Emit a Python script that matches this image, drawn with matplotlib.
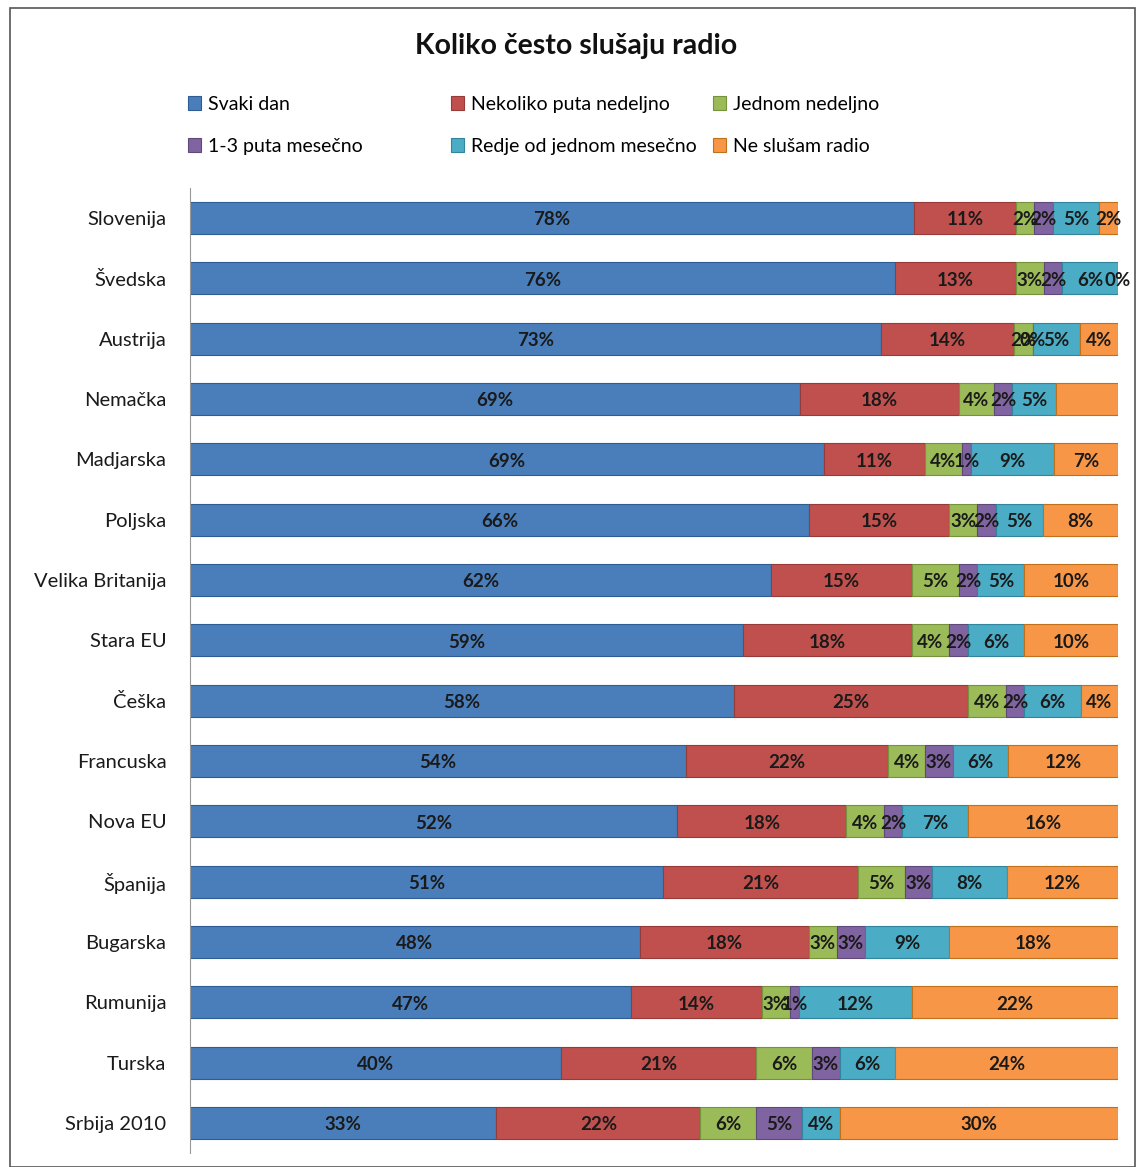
import matplotlib
matplotlib.use("Agg")
import matplotlib.pyplot as plt
import numpy as np
from matplotlib.patches import Rectangle

plt.rcParams['font.family'] = ['Lato', 'DejaVu Sans']

countries = ["Slovenija", "Švedska", "Austrija", "Nemačka", "Madjarska", "Poljska",
             "Velika Britanija", "Stara EU", "Češka", "Francuska", "Nova EU", "Španija",
             "Bugarska", "Rumunija", "Turska", "Srbija 2010"]
series = ["Svaki dan", "Nekoliko puta nedeljno", "Jednom nedeljno",
          "1-3 puta mesečno", "Redje od jednom mesečno", "Ne slušam radio"]

svaki_dan = [78, 76, 73, 69, 69, 66, 62, 59, 58, 54, 52, 51, 48, 47, 40, 33]
nekoliko = [11, 13, 14, 18, 11, 15, 15, 18, 25, 22, 18, 21, 18, 14, 21, 22]
jednom = [2, 3, 2, 4, 4, 3, 5, 4, 4, 4, 4, 5, 3, 3, 6, 6]
mesecno_1_3 = [2, 2, 0, 2, 1, 2, 2, 2, 2, 3, 2, 3, 3, 1, 3, 5]
redje = [5, 6, 5, 5, 9, 5, 5, 6, 6, 6, 7, 8, 9, 12, 6, 4]
ne_slusam = [2, 0, 4, 7, 7, 8, 10, 10, 4, 12, 16, 12, 18, 22, 24, 30]
# label of Nemačka "Ne slušam radio" segment is not shown in the original
hidden_labels = {(3, 5)}

colors = ["#4A7EBB", "#C0504D", "#9BBB59", "#8064A2", "#4BACC6", "#F79646"]
edges = ["#2E5C93", "#963B38", "#76923C", "#5F497A", "#31859C", "#C0701A"]

data = np.array([svaki_dan, nekoliko, jednom, mesecno_1_3, redje, ne_slusam], dtype=float)
totals = data.sum(axis=0)
pct = data / totals * 100

fig = plt.figure(figsize=(11.37, 11.67), dpi=100)
fig.patches.append(Rectangle((10/1137, 0), 1125/1137, 1 - 8/1167, transform=fig.transFigure,
                             fill=False, edgecolor="#555555", linewidth=1.2))

ax = fig.add_axes([190/1137, 1 - 1153/1167, (1118 - 190)/1137, (1153 - 188)/1167])
y = np.arange(len(countries))
left = np.zeros(len(countries))
handles = []
for i, name in enumerate(series):
    h = ax.barh(y, pct[i], left=left, height=0.53, color=colors[i], edgecolor=edges[i],
                linewidth=0.8, label=name)
    handles.append(h)
    for j in range(len(countries)):
        if (j, i) in hidden_labels:
            continue
        ax.text(left[j] + pct[i][j] / 2, y[j] + 0.03, f"{int(data[i][j])}%",
                ha="center", va="center", fontsize=13.5, fontweight="bold", color="#1a1a1a")
    left += pct[i]

ax.set_xlim(0, 100)
ax.set_ylim(len(countries) - 0.5, -0.5)
ax.set_yticks(y)
ax.set_yticklabels(countries, fontsize=14.5, color="#1a1a1a")
ax.tick_params(axis="y", length=0, pad=17)
ax.set_xticks([])
for s in ["top", "right", "bottom"]:
    ax.spines[s].set_visible(False)
ax.spines["left"].set_color("#999999")

fig.text(576/1137, 1 - 46/1167, "Koliko često slušaju radio", ha="center", va="center",
         fontsize=20.5, fontweight="bold", color="#111111")

col_x = [172, 435, 697]
for c in range(3):
    idx = [c, c + 3]
    leg = fig.legend([handles[k] for k in idx], [series[k] for k in idx], ncol=1,
                     loc="upper left", bbox_to_anchor=(col_x[c]/1137, 1 - 80/1167),
                     frameon=False, fontsize=14, handlelength=0.7, handleheight=0.7,
                     handletextpad=0.35, labelspacing=1.3, borderpad=0.3)

fig.savefig("out.png", dpi=100)
